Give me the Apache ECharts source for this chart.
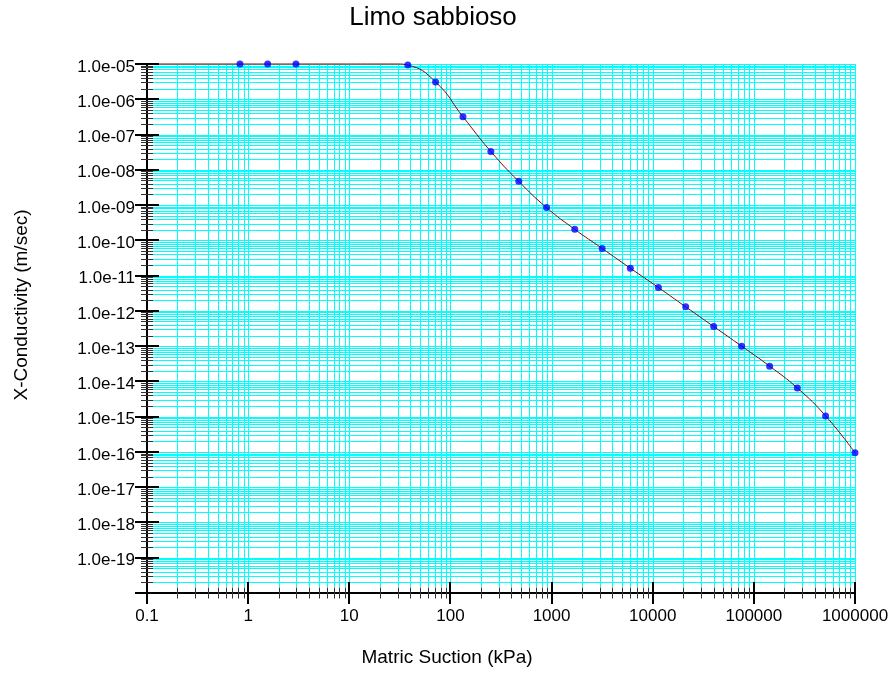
<!DOCTYPE html>
<html><head><meta charset="utf-8">
<script src="https://cdn.jsdelivr.net/npm/echarts@6/dist/echarts.min.js"></script>
<style>html,body{margin:0;padding:0;background:#fff}#main{width:895px;height:677px}</style>
</head><body><div id="main"></div>
<script>
// ---- data ----
const titleText = 'Limo sabbioso';
const xAxisName = 'Matric Suction (kPa)';
const yAxisName = 'X-Conductivity (m/sec)';

const pointX = [0.83, 1.56, 2.97, 37.9, 71.3, 133, 251, 474, 891, 1695, 3162, 6010, 11380, 21190, 40090, 75700, 143200, 269000, 512000, 1000000];
const pointY = [1e-5, 1e-5, 1e-5, 9.3e-6, 3.1e-6, 3.2e-7, 3.3e-8, 4.7e-9, 8.5e-10, 2.05e-10, 5.9e-11, 1.62e-11, 4.6e-12, 1.3e-12, 3.6e-13, 1.0e-13, 2.7e-14, 6.5e-15, 1.05e-15, 9.5e-17];

const curveX = [0.1, 0.83, 1.56, 2.97, 30, 37.9, 71.3, 133, 251, 474, 891, 1695, 3162, 6010, 11380, 21190, 40090, 75700, 143200, 269000, 512000, 1000000];
const curveY = [1e-5, 1e-5, 1e-5, 1e-5, 1e-5, 9.3e-6, 3.1e-6, 3.2e-7, 3.3e-8, 4.7e-9, 8.5e-10, 2.05e-10, 5.9e-11, 1.62e-11, 4.6e-12, 1.3e-12, 3.6e-13, 1.0e-13, 2.7e-14, 6.5e-15, 1.05e-15, 9.5e-17];

const xTickValues = [0.1, 1, 10, 100, 1000, 10000, 100000, 1000000];
const xTickLabels = ['0.1', '1', '10', '100', '1000', '10000', '100000', '1000000'];
const yTickValues = [1e-19, 1e-18, 1e-17, 1e-16, 1e-15, 1e-14, 1e-13, 1e-12, 1e-11, 1e-10, 1e-9, 1e-8, 1e-7, 1e-6, 1e-5];
const yTickLabels = ['1.0e-19', '1.0e-18', '1.0e-17', '1.0e-16', '1.0e-15', '1.0e-14', '1.0e-13', '1.0e-12', '1.0e-11', '1.0e-10', '1.0e-09', '1.0e-08', '1.0e-07', '1.0e-06', '1.0e-05'];

// ---- axis configuration ----
const xMinExp = -1, xMaxExp = 6;
const yMinExp = -20, yMaxExp = -5;
const xMin = Math.pow(10, xMinExp), xMax = Math.pow(10, xMaxExp);
const yMin = Math.pow(10, yMinExp), yMax = Math.pow(10, yMaxExp);

function logTicks(e0, e1) {
  const major = [], minor = [];
  for (let e = e0; e <= e1; e++) {
    major.push(Math.pow(10, e));
    if (e < e1) for (let m = 2; m <= 9; m++) minor.push(m * Math.pow(10, e));
  }
  return { major, minor };
}
const xt = logTicks(xMinExp, xMaxExp);
const yt = logTicks(yMinExp, yMaxExp);

const FONT = 'Arial, "Liberation Sans", sans-serif';
const crisp = v => Math.round(v) + 0.5;

const chart = echarts.init(document.getElementById('main'), null, { renderer: 'canvas' });

function lineEl(x1, y1, x2, y2, color, w) {
  return { type: 'line', silent: true, shape: { x1, y1, x2, y2 }, style: { stroke: color, lineWidth: w, fill: null } };
}
function vGrid(params, api) {
  const v = api.value(0);
  const top = api.coord([v, yMax]);
  const bot = api.coord([v, yMin]);
  const x = crisp(top[0]);
  return lineEl(x, top[1], x, bot[1] - 6, '#00FFFF', 1);
}
function hGrid(params, api) {
  const v = api.value(1);
  const l = api.coord([xMin, v]);
  const r = api.coord([xMax, v]);
  const y = crisp(l[1]);
  return lineEl(l[0] + 6, y, r[0], y, '#00FFFF', 1);
}
function xTick(len, w, color) {
  return function (params, api) {
    const p = api.coord([api.value(0), yMin]);
    const x = w === 1 ? crisp(p[0]) : Math.round(p[0]);
    return lineEl(x, p[1] - len, x, p[1] + len, color, w);
  };
}
function yTick(len, w, color) {
  return function (params, api) {
    const p = api.coord([xMin, api.value(1)]);
    const y = w === 1 ? crisp(p[1]) : Math.round(p[1]);
    return lineEl(p[0] - len, y, p[0] + len, y, color, w);
  };
}
function xLabel(params, api) {
  const p = api.coord([api.value(0), yMin]);
  return { type: 'text', silent: true, x: p[0], y: p[1] + 23,
    style: { text: xTickLabels[params.dataIndex], font: '17px ' + FONT, fill: '#000', align: 'center', verticalAlign: 'middle' } };
}
function yLabel(params, api) {
  const p = api.coord([xMin, api.value(1)]);
  return { type: 'text', silent: true, x: p[0] - 12, y: p[1] + 3,
    style: { text: yTickLabels[params.dataIndex], font: '17px ' + FONT, fill: '#000', align: 'right', verticalAlign: 'middle' } };
}

const noLine = { show: false, lineStyle: { color: 'rgba(0,0,0,0)', width: 0 } };
const hiddenAxisParts = {
  axisTick: { show: false }, axisLabel: { show: false },
  splitLine: noLine, minorSplitLine: noLine,
  splitArea: { show: false },
  minorTick: { show: false }
};

const option = {
  backgroundColor: '#ffffff',
  animation: false,
  tooltip: { show: false },
  grid: { left: 147, right: 40, top: 64, bottom: 84, containLabel: false, show: false },
  xAxis: Object.assign({
    type: 'log', logBase: 10, min: xMin, max: xMax,
    axisLine: { show: true, onZero: false, lineStyle: { color: '#000', width: 2 } }
  }, hiddenAxisParts),
  yAxis: Object.assign({
    type: 'log', logBase: 10, min: yMin, max: yMax,
    axisLine: { show: true, onZero: false, lineStyle: { color: '#000', width: 2 } }
  }, hiddenAxisParts),
  graphic: [
    { type: 'text', x: 433, y: 18, style: { text: titleText, font: '26px ' + FONT, fill: '#000', align: 'center', verticalAlign: 'middle' } },
    { type: 'text', x: 447, y: 658, style: { text: xAxisName, font: '19px ' + FONT, fill: '#000', align: 'center', verticalAlign: 'middle' } },
    { type: 'text', x: 22, y: 305, rotation: Math.PI / 2, style: { text: yAxisName, font: '19px ' + FONT, fill: '#000', align: 'center', verticalAlign: 'middle' } }
  ],
  series: [
    { type: 'custom', name: 'vgrid', z: 1, silent: true, clip: false, renderItem: vGrid,
      data: xt.minor.concat(xt.major.slice(1)).map(v => [v, yMax]) },
    { type: 'custom', name: 'hgrid', z: 1, silent: true, clip: false, renderItem: hGrid,
      data: yt.minor.concat(yt.major.slice(1)).map(v => [xMin, v]) },
    { type: 'line', name: 'curve', z: 3, clip: false, smooth: 0.5, showSymbol: false, symbol: 'none',
      lineStyle: { color: '#8B0000', width: 1 },
      data: curveX.map((x, i) => [x, curveY[i]]) },
    { type: 'scatter', name: 'points', z: 4, clip: false, symbol: 'circle', symbolSize: 7,
      itemStyle: { color: '#0000FF' },
      data: pointX.map((x, i) => [x, pointY[i]]) },
    { type: 'custom', name: 'xMinorTicks', z: 5, silent: true, clip: false, renderItem: xTick(5.5, 1, '#333'),
      data: xt.minor.map(v => [v, yMin]) },
    { type: 'custom', name: 'xMajorTicks', z: 5, silent: true, clip: false, renderItem: xTick(11, 2, '#000'),
      data: xt.major.map(v => [v, yMin]) },
    { type: 'custom', name: 'yMinorTicks', z: 5, silent: true, clip: false, renderItem: yTick(6, 1, '#333'),
      data: yt.minor.map(v => [xMin, v]) },
    { type: 'custom', name: 'yMajorTicks', z: 5, silent: true, clip: false, renderItem: yTick(12, 2, '#000'),
      data: yt.major.map(v => [xMin, v]) },
    { type: 'custom', name: 'xLabels', z: 5, silent: true, clip: false, renderItem: xLabel,
      data: xTickValues.map(v => [v, yMin]) },
    { type: 'custom', name: 'yLabels', z: 5, silent: true, clip: false, renderItem: yLabel,
      data: yTickValues.map(v => [xMin, v]) }
  ]
};
chart.setOption(option);
</script>
</body></html>
